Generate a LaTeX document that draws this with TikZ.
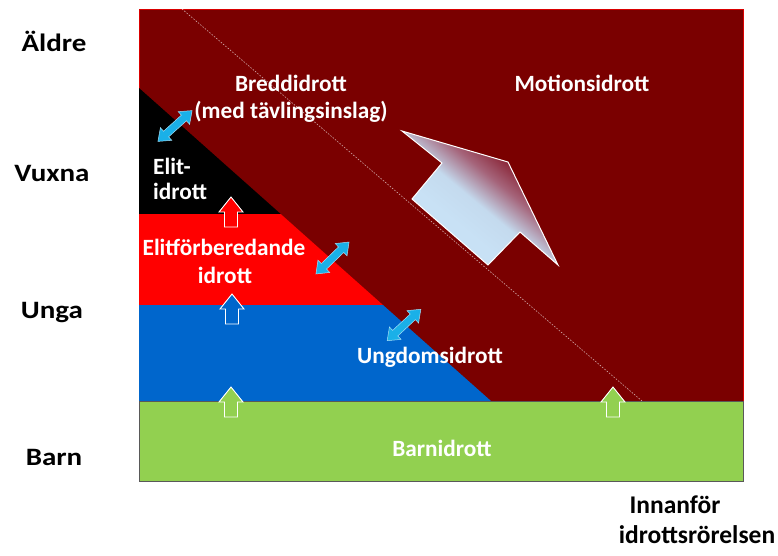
\documentclass[tikz,border=0pt]{standalone}
\usepackage{fontspec}
\setmainfont{Carlito}
\newfontfamily\axisfont[FakeStretch=1.16]{Carlito}
\definecolor{bgred}{RGB}{122,0,0}
\definecolor{ered}{RGB}{255,0,0}
\definecolor{ublue}{RGB}{0,102,204}
\definecolor{bgreen}{RGB}{146,208,80}
\definecolor{dcyan}{RGB}{26,176,232}
\definecolor{arrtop}{RGB}{128,14,30}
\definecolor{arrmauve}{RGB}{165,100,122}
\definecolor{arrmid}{RGB}{196,218,238}
\definecolor{arrbot}{RGB}{200,225,245}
\pgfdeclareverticalshading{bigarrshade}{100bp}{color(0bp)=(arrbot); color(38bp)=(arrbot); color(48bp)=(arrmid); color(58bp)=(arrmauve); color(69bp)=(arrtop); color(100bp)=(arrtop)}
\begin{document}
\begin{tikzpicture}[x=1pt,y=-1pt,
  intext/.style={text=white,font=\fontsize{23.3}{27}\selectfont\bfseries,inner sep=0pt},
  axislab/.style={text=black,font=\axisfont\fontsize{25}{29}\selectfont\bfseries,inner sep=0pt},
  cornerlab/.style={text=black,font=\fontsize{25.5}{29}\selectfont\bfseries,inner sep=0pt},
  uparr/.pic={\path[pic actions] (0,-15) -- (12,0) -- (6.5,0) -- (6.5,15) -- (-6.5,15) -- (-6.5,0) -- (-12,0) -- cycle;},
  dblarr/.pic={\path[pic actions] (-23,0) -- (-12,-8.5) -- (-12,-3.8) -- (12,-3.8) -- (12,-8.5) -- (23,0) -- (12,8.5) -- (12,3.8) -- (-12,3.8) -- (-12,8.5) -- cycle;},
  uparrstyle/.style={draw=white,line width=0.9pt},
  dblstyle/.style={fill=dcyan,draw=white!60!dcyan,line width=0.5pt}
]
\useasboundingbox (0,0) rectangle (778,555);

% background (motionsidrott) area
\draw[fill=bgred,draw=red!85!black,line width=0.8pt] (139,9) rectangle (743,401);
% black region (elitidrott)
\fill[black] (139,88) -- (280.7,214) -- (139,214) -- cycle;
% red region
\fill[ered] (139,214) -- (280.7,214) -- (383,305) -- (139,305) -- cycle;
% blue region
\fill[ublue] (139,305) -- (383,305) -- (491,401) -- (139,401) -- cycle;
% dotted divider
\coordinate (dA) at (182,9);
\coordinate (dB) at (642,401);
\draw[white,opacity=0.65,line width=0.6pt,dash pattern=on 1.5pt off 1.5pt] (dA) -- (dB);
% green band
\draw[fill=bgreen,draw=black!65,line width=1pt] (139,401) rectangle (743,481);

% big gradient arrow
\shade[draw=white,line width=1pt,shading=bigarrshade,shading angle=-39.6]
  (508,162) -- (558,265) -- (520,232) -- (488,265) -- (412,199) -- (442,163) -- (402,131) -- cycle;

% double arrows
\pic[dblstyle,rotate=42] (d1) at (175,126) {dblarr};
\pic[dblstyle,rotate=44] (d2) at (332.5,258) {dblarr};
\pic[dblstyle,rotate=43] (d3) at (404,325) {dblarr};

% up arrows
\pic[uparrstyle,fill=ered] (u1) at (231,212) {uparr};
\pic[uparrstyle,fill=ublue] (u2) at (232,309) {uparr};
\pic[uparrstyle,fill=bgreen] (u3) at (231,402) {uparr};
\pic[uparrstyle,fill=bgreen] (u4) at (613,402) {uparr};

% texts
\node[intext] (bredd1) at (291,83) {Breddidrott};
\node[intext] (bredd2) at (291,112) {(med tävlingsinslag)};
\node[intext] (motion) at (582,83) {Motionsidrott};
\node[intext,anchor=west] (elit1) at (153,166) {Elit-};
\node[intext,anchor=west] (elit2) at (153,191) {idrott};
\node[intext] (ef1) at (224,247) {Elitförberedande};
\node[intext] (ef2) at (225,275) {idrott};
\node[intext] (ungdom) at (430,357) {Ungdomsidrott};
\node[intext] (barnidr) at (442,448) {Barnidrott};

\node[axislab] (aldre) at (54,41) {Äldre};
\node[axislab] (vuxna) at (52,173) {Vuxna};
\node[axislab] (unga) at (52,313) {Unga};
\node[axislab] (barn) at (54,457) {Barn};
\node[cornerlab] (inn1) at (675,505) {Innanför};
\node[cornerlab] (inn2) at (697,535) {idrottsrörelsen};
\end{tikzpicture}
\end{document}
